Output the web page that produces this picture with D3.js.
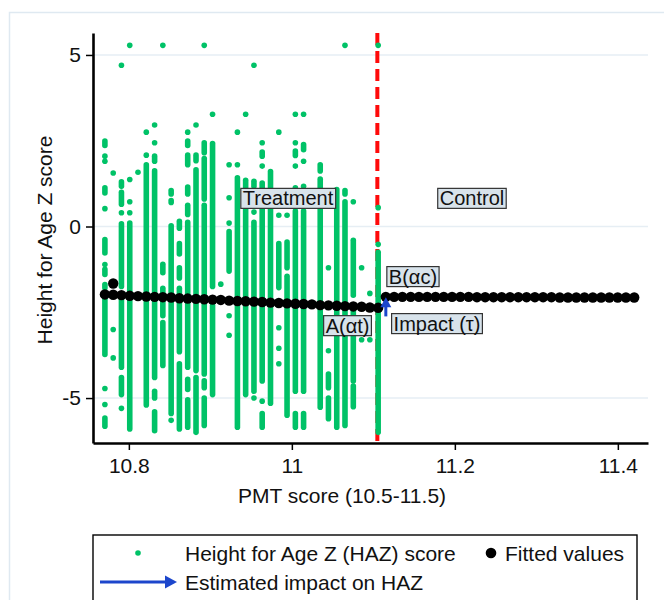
<!DOCTYPE html>
<html><head><meta charset="utf-8">
<script src="https://cdn.jsdelivr.net/npm/d3@7"></script>
<style>
body{margin:0;background:#fff}
svg{display:block}
text{font-family:Arial,"Liberation Sans",sans-serif;fill:#111}
</style>
</head><body>
<svg id="c" width="664" height="600"></svg>
<script>
// ---------------- DATA ----------------
// PMT score columns (treatment side, below cutoff)
const colX = [10.7706,10.7808,10.7909,10.8011,10.8112,10.8214,10.8316,10.8417,10.8519,10.8620,
  10.8722,10.8824,10.8925,10.9027,10.9128,10.9230,10.9332,10.9433,10.9535,10.9636,
  10.9738,10.9840,10.9941,11.0043,11.0144,11.0246,11.0348,11.0449,11.0551,11.0652,
  11.0754,11.0856,11.0957,11.1059];
// dense runs of HAZ observations: [column index, top HAZ, bottom HAZ]
const hazRuns = [
  [0,2.49,2.36],[0,1.13,0.98],[0,-0.38,-0.77],[0,-1.25,-1.40],[0,-1.69,-1.79],[0,-1.94,-3.73],[0,-5.58,-5.82],
  [2,1.30,1.17],[2,1.0,0.65],[2,0.08,-1.75],[2,-2.1,-4.1],[2,-4.4,-4.9],
  [3,0.1,-5.9],
  [5,1.80,-5.2],
  [6,2.05,1.90],[6,1.62,-4.4],[6,-4.8,-5.0],[6,-5.4,-5.95],
  [7,-1.1,-1.35],[7,-1.8,-2.6],[7,-2.8,-4.05],
  [8,1.05,0.95],[8,0.76,0.70],[8,0.02,-5.45],
  [9,0.15,-0.05],[9,-0.5,-0.8],[9,-1.2,-1.5],[9,-1.8,-3.65],[9,-4.0,-5.9],
  [10,2.49,2.36],[10,2.08,1.80],[10,1.15,0.95],[10,0.62,0.35],[10,0.12,-4.1],[10,-4.45,-4.75],[10,-5.05,-5.85],
  [11,2.08,1.92],[11,1.65,-4.2],[11,-4.4,-6.0],
  [12,2.44,2.15],[12,1.98,0.80],[12,0.62,-4.3],[12,-4.5,-4.7],[12,-5.0,-5.8],
  [13,2.42,-1.75],[13,-2.3,-4.9],
  [15,-0.15,-1.3],
  [16,1.42,-5.85],
  [17,1.35,-4.9],
  [18,1.32,1.17],[18,0.12,-4.8],
  [19,2.17,2.05],[19,1.27,-4.5],[19,-5.45,-5.85],
  [20,1.6,-5.15],
  [21,-0.5,-1.78],
  [22,-0.45,-1.2],[22,-1.45,-5.5],
  [23,2.2,2.07],[23,0.45,-4.8],[23,-5.45,-5.85],
  [24,2.39,2.24],[24,0.45,-4.8],[24,-5.45,-5.85],
  [26,1.80,1.62],[26,1.38,-5.27],
  [27,-4.3,-4.7],[27,-5.0,-5.6],
  [28,1.08,-5.85],
  [29,1.05,0.95],[29,0.72,-5.8],
  [30,-0.4,-2.0],[30,-2.4,-4.5],[30,-4.65,-5.25],
  [33,-0.75,-6.0]
];
// single HAZ observations: [column index, HAZ]
const hazPoints = [
  [0,2.05],[0,1.90],[0,0.52],[0,-1.11],[0,-4.72],[0,-5.19],
  [1,1.56],[1,-3.0],[1,-3.83],
  [2,4.70],[2,0.40],[2,-5.3],
  [3,5.28],[3,1.37],[3,0.72],[3,0.40],
  [4,1.58],
  [5,2.75],[5,2.08],
  [6,2.96],[6,2.44],
  [7,5.28],
  [8,-5.65],
  [10,2.75],
  [11,2.96],
  [12,5.28],
  [13,3.27],
  [14,-1.68],
  [15,1.80],[15,0.84],[15,0.10],[15,-2.6],[15,-3.17],
  [16,2.75],[16,1.80],
  [17,3.27],
  [18,4.70],[18,0.42],[18,-5.0],
  [19,2.44],[19,1.76],[19,-5.09],
  [21,2.75],[21,0.33],[21,-2.95],[21,-3.55],[21,-4.0],
  [22,0.33],
  [23,3.27],[23,2.44],[23,1.76],[23,1.13],
  [24,3.27],[24,1.90],[24,1.17],
  [27,-1.2],[27,-3.62],
  [29,5.28],
  [30,0.72],
  [31,-1.2],[31,-3.3],
  [32,-1.95],[32,-3.3],
  [33,5.28],[33,0.55],[33,-0.52]
];
// fitted values, treatment side (one per column) and control side
const fitTreat = [-1.98,-1.99,-2.00,-2.02,-2.03,-2.04,-2.05,-2.06,-2.07,-2.09,-2.10,-2.11,-2.12,-2.13,-2.14,-2.16,-2.17,
  -2.18,-2.19,-2.20,-2.22,-2.23,-2.24,-2.25,-2.26,-2.27,-2.29,-2.30,-2.31,-2.32,-2.33,-2.34,-2.36,-2.37];
const fitExtra = [[10.7808,-1.66]];
const ctrlX = [11.1153,11.1255,11.1356,11.1458,11.1559,11.1661,11.1763,11.1864,11.1966,11.2067,11.2169,11.2271,
  11.2372,11.2474,11.2575,11.2677,11.2779,11.2880,11.2982,11.3083,11.3185,11.3287,11.3388,11.3490,11.3591,
  11.3693,11.3795,11.3896,11.3998,11.4099,11.4201];
const fitCtrl = [-2.05,-2.05,-2.05,-2.05,-2.05,-2.05,-2.05,-2.05,-2.05,-2.05,-2.05,-2.06,-2.06,-2.06,-2.06,-2.06,
  -2.06,-2.06,-2.06,-2.06,-2.06,-2.07,-2.07,-2.07,-2.07,-2.07,-2.07,-2.07,-2.07,-2.07,-2.07];
const cutoff = 11.1049;
const impactArrow = {x: 11.1153, from: -2.62, to: -2.06};
const xTicks = [10.8, 11, 11.2, 11.4];
const xTickLabels = ['10.8', '11', '11.2', '11.4'];
const yTicks = [-5, 0, 5];
const yTickLabels = ['-5', '0', '5'];
const annotations = [
  {text: 'Treatment', x: 10.9953, y: 0.82},
  {text: 'Control', x: 11.2210, y: 0.82},
  {text: 'B(\u03b1c)', x: 11.1486, y: -1.46},
  {text: 'Impact (\u03c4)', x: 11.1781, y: -2.83},
  {text: 'A(\u03b1t)', x: 11.0683, y: -2.89}
];
const legendItems = ['Height for Age Z (HAZ) score', 'Fitted values', 'Estimated impact on HAZ'];

// ---------------- DRAW ----------------
const GREEN = '#00c267', BLUE = '#1c46cc', RED = '#ff0a0a';
const FS = 21;
const svg = d3.select('#c');
const x = d3.scaleLinear().domain([10.756, 11.437]).range([93, 648]);
const y = d3.scaleLinear().domain([-6.31, 5.64]).range([443, 33]);

svg.append('rect').attr('width', 664).attr('height', 600).attr('fill', '#fff');
svg.append('rect').attr('x', 9.5).attr('y', 12.5).attr('width', 700).attr('height', 700)
  .attr('fill', 'none').attr('stroke', '#dfe9f1').attr('stroke-width', 1.5);

// gridlines
svg.append('g').selectAll('line').data(yTicks).join('line')
  .attr('x1', x.range()[0]).attr('x2', x.range()[1])
  .attr('y1', d => y(d)).attr('y2', d => y(d))
  .attr('stroke', '#e6eef4').attr('stroke-width', 1.6);

// cutoff
svg.append('line').attr('x1', x(cutoff)).attr('x2', x(cutoff))
  .attr('y1', y.range()[1]).attr('y2', y.range()[0])
  .attr('stroke', RED).attr('stroke-width', 4).attr('stroke-dasharray', '12,6');

// HAZ observations
svg.append('g').selectAll('line').data(hazRuns).join('line')
  .attr('x1', d => x(colX[d[0]])).attr('x2', d => x(colX[d[0]]))
  .attr('y1', d => y(d[1])).attr('y2', d => y(d[2]))
  .attr('stroke', GREEN).attr('stroke-width', 5.6).attr('stroke-linecap', 'round');
svg.append('g').selectAll('circle').data(hazPoints).join('circle')
  .attr('cx', d => x(colX[d[0]])).attr('cy', d => y(d[1])).attr('r', 2.8).attr('fill', GREEN);

// fitted values
const fitted = fitTreat.map((v, i) => [colX[i], v]).concat(fitExtra).concat(fitCtrl.map((v, i) => [ctrlX[i], v]));
svg.append('g').selectAll('circle').data(fitted).join('circle')
  .attr('cx', d => x(d[0])).attr('cy', d => y(d[1])).attr('r', 5.2).attr('fill', '#000');

// impact arrow
function arrowV(g, x0, y0, y1) {
  g.append('line').attr('x1', x0).attr('x2', x0).attr('y1', y0).attr('y2', y1 + 7)
    .attr('stroke', BLUE).attr('stroke-width', 3);
  g.append('path').attr('d', `M${x0},${y1} L${x0 - 5.5},${y1 + 10} L${x0 + 5.5},${y1 + 10} Z`).attr('fill', BLUE);
}
arrowV(svg.append('g'), x(impactArrow.x), y(impactArrow.from), y(impactArrow.to));

// axes
const yAxis = svg.append('g').attr('transform', `translate(${x.range()[0]},0)`)
  .call(d3.axisLeft(y).tickValues(yTicks).tickFormat((d, i) => yTickLabels[i]).tickSize(7).tickSizeOuter(0).tickPadding(5));
const xAxis = svg.append('g').attr('transform', `translate(0,${y.range()[0]})`)
  .call(d3.axisBottom(x).tickValues(xTicks).tickFormat((d, i) => xTickLabels[i]).tickSize(7).tickSizeOuter(0).tickPadding(8));
[yAxis, xAxis].forEach(a => {
  a.select('.domain').attr('stroke', '#000').attr('stroke-width', 2.6);
  a.selectAll('.tick line').attr('stroke', '#000').attr('stroke-width', 1.5);
  a.selectAll('.tick text').attr('font-size', FS).attr('font-family', 'Arial, "Liberation Sans", sans-serif').attr('fill', '#111');
});

// titles
svg.append('text').attr('x', 342).attr('y', 503).attr('text-anchor', 'middle').attr('font-size', FS)
  .text('PMT score (10.5-11.5)');
svg.append('text').attr('transform', 'translate(52,240) rotate(-90)').attr('text-anchor', 'middle').attr('font-size', FS)
  .text('Height for Age Z score');

// annotation boxes
annotations.forEach(a => {
  const g = svg.append('g');
  const cx = x(a.x), cy = y(a.y);
  const t = g.append('text').attr('x', cx).attr('y', cy + 7).attr('text-anchor', 'middle').attr('font-size', 20).text(a.text);
  const bb = t.node().getBBox();
  g.insert('rect', 'text').attr('x', bb.x - 2).attr('y', cy - 10).attr('width', bb.width + 4).attr('height', 20)
    .attr('fill', '#d8e3eb').attr('stroke', '#333').attr('stroke-width', 1.2);
});

// legend
const lg = svg.append('g');
lg.append('rect').attr('x', 93).attr('y', 535).attr('width', 544).attr('height', 120)
  .attr('fill', '#fff').attr('stroke', '#000').attr('stroke-width', 1.4);
lg.append('circle').attr('cx', 138).attr('cy', 553).attr('r', 2.8).attr('fill', GREEN);
lg.append('text').attr('x', 185).attr('y', 561).attr('font-size', FS).text(legendItems[0]);
lg.append('circle').attr('cx', 491).attr('cy', 553).attr('r', 5.3).attr('fill', '#000');
lg.append('text').attr('x', 505).attr('y', 561).attr('font-size', FS).text(legendItems[1]);
lg.append('line').attr('x1', 100).attr('x2', 166).attr('y1', 582).attr('y2', 582).attr('stroke', BLUE).attr('stroke-width', 3.2);
lg.append('path').attr('d', 'M177,582 L165,575.5 L165,588.5 Z').attr('fill', BLUE);
lg.append('text').attr('x', 185).attr('y', 590).attr('font-size', FS).text(legendItems[2]);
</script>
</body></html>
